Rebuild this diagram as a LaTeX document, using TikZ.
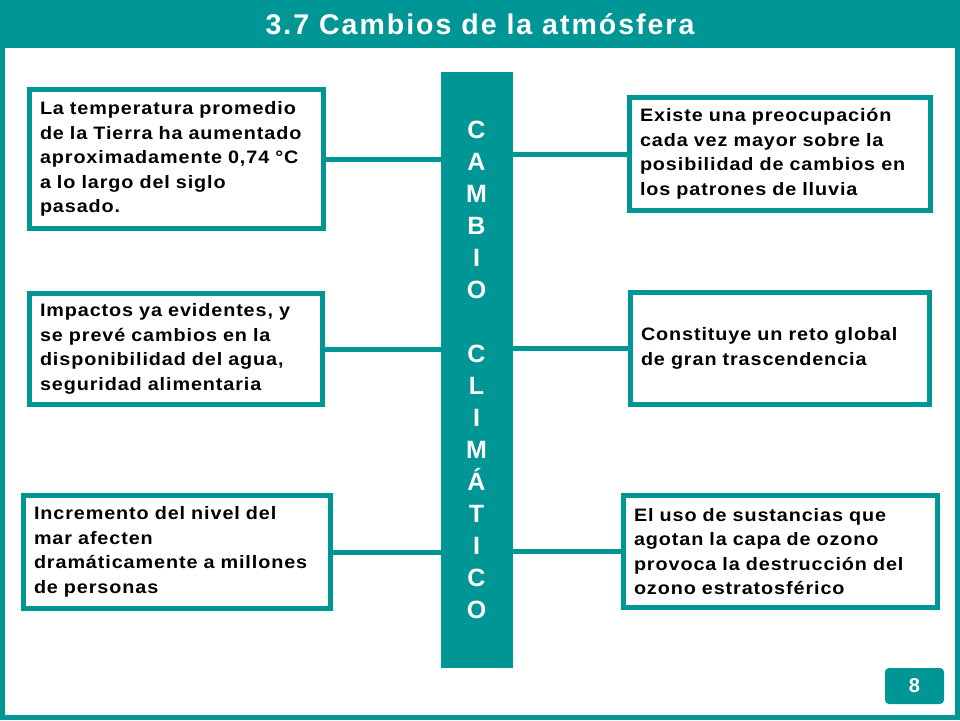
\documentclass[tikz,border=0pt]{standalone}
\usepackage{fontspec}
\setmainfont{Liberation Sans}
\newfontfamily\cajafont[FakeStretch=1.1,LetterSpace=5]{Liberation Sans}
\newfontfamily\titfont[LetterSpace=7]{Liberation Sans}
\usepackage{tikz}
\usetikzlibrary{positioning}
\definecolor{verde}{RGB}{0,150,150}

\begin{document}
\begin{tikzpicture}[x=1pt,y=-1pt,line width=5pt,font=\bfseries]

    \tikzstyle{caja}=[draw=verde,fill=white,inner xsep=10.5pt,align=left,text=black,font=\cajafont\bfseries\fontsize{18}{24.5}\selectfont]
    \tikzstyle{enlace}=[draw=verde,line width=5pt]

    \fill[verde] (0,0) rectangle (960,720);
    \fill[white] (5,48) rectangle (955,715);

    \node[text=white,font=\titfont\bfseries\fontsize{28.5}{34}\selectfont] (tit) at (480,24) {3.7 Cambios de la atmósfera};

    \node[fill=verde,outer sep=0pt,minimum width=72pt,minimum height=596pt,text=white,align=center,
          font=\bfseries\fontsize{25}{32}\selectfont] (bar) at (476.5,370)
          {C\\A\\M\\B\\I\\O\\~\\C\\L\\I\\M\\Á\\T\\I\\C\\O};

    \node[caja,text width=273pt,minimum height=139pt] (l1) at (176.5,159)
          {La temperatura promedio\\de la Tierra ha aumentado\\aproximadamente 0,74 °C\\a lo largo del siglo\\pasado.};
    \node[caja,text width=272pt,minimum height=111pt] (l2) at (176,349)
          {Impactos ya evidentes, y\\se prevé cambios en la\\disponibilidad del agua,\\seguridad alimentaria};
    \node[caja,text width=286pt,minimum height=113pt] (l3) at (177,552)
          {Incremento del nivel del\\mar afecten\\dramáticamente a millones\\de personas};

    \node[caja,text width=280pt,minimum height=113pt] (r1) at (780,154)
          {Existe una preocupación\\cada vez mayor sobre la\\posibilidad de cambios en\\los patrones de lluvia};
    \node[caja,text width=278pt,minimum height=112pt] (r2) at (780,348.5)
          {Constituye un reto global\\de gran trascendencia};
    \node[caja,text width=293pt,minimum height=112pt] (r3) at (780.5,551.5)
          {El uso de sustancias que\\agotan la capa de ozono\\provoca la destrucción del\\ozono estratosférico};

    \draw[enlace] (l1.east) -- (l1.east -| bar.west);
    \draw[enlace] (l2.east) -- (l2.east -| bar.west);
    \draw[enlace] (l3.east) -- (l3.east -| bar.west);
    \draw[enlace] (r1.west) -- (r1.west -| bar.east);
    \draw[enlace] (r2.west) -- (r2.west -| bar.east);
    \draw[enlace] (r3.west) -- (r3.west -| bar.east);

    \node[fill=verde,rounded corners=4pt,minimum width=59pt,minimum height=36pt,text=white,
          font=\bfseries\fontsize{20}{24}\selectfont] (pag) at (914.5,686) {8};
\end{tikzpicture}
\end{document}
